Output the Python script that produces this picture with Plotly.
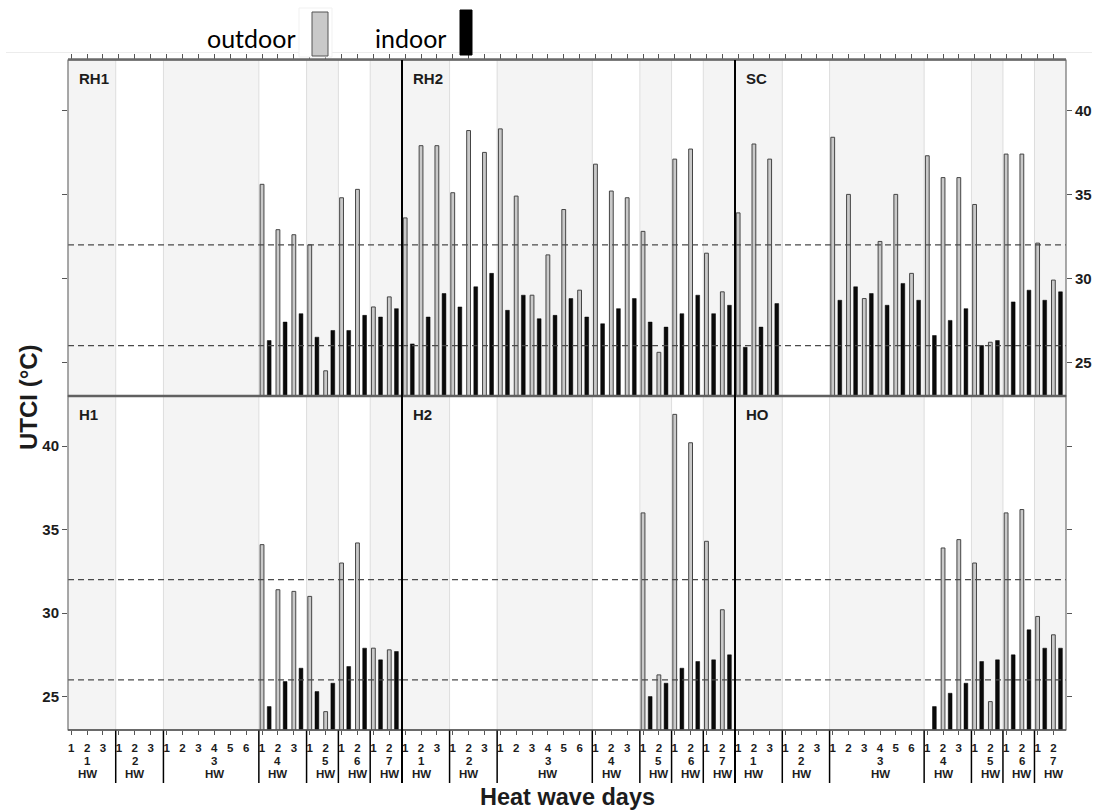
import plotly.graph_objects as go

# ---- data -------------------------------------------------------------
hw_lengths = [3, 3, 6, 3, 2, 2, 2]
hw_labels = ["1", "2", "3", "4", "5", "6", "7"]
day_labels = ["1", "2", "3", "1", "2", "3", "1", "2", "3", "4", "5", "6",
              "1", "2", "3", "1", "2", "1", "2", "1", "2"]
panel_names = ["RH1", "RH2", "SC", "H1", "H2", "HO"]
y_ticks = [25, 30, 35, 40]
thresholds = [26, 32]

N = None
rh1_outdoor = [N, N, N, N, N, N, N, N, N, N, N, N,
               35.6, 32.9, 32.6, 32.0, 24.5, 34.8, 35.3, 28.3, 28.9]
rh1_indoor = [N, N, N, N, N, N, N, N, N, N, N, N,
              26.3, 27.4, 27.9, 26.5, 26.9, 26.9, 27.8, 27.7, 28.2]

rh2_outdoor = [33.6, 37.9, 37.9, 35.1, 38.8, 37.5, 38.9, 34.9, 29.0, 31.4, 34.1, 29.3,
               36.8, 35.2, 34.8, 32.8, 25.6, 37.1, 37.7, 31.5, 29.2]
rh2_indoor = [26.1, 27.7, 29.1, 28.3, 29.5, 30.3, 28.1, 29.0, 27.6, 27.8, 28.8, 27.7,
              27.3, 28.2, 28.8, 27.4, 27.1, 27.9, 29.0, 27.9, 28.4]

sc_outdoor = [33.9, 38.0, 37.1, N, N, N, 38.4, 35.0, 28.8, 32.2, 35.0, 30.3,
              37.3, 36.0, 36.0, 34.4, 26.2, 37.4, 37.4, 32.1, 29.9]
sc_indoor = [25.9, 27.1, 28.5, N, N, N, 28.7, 29.5, 29.1, 28.4, 29.7, 28.7,
             26.6, 27.5, 28.2, 26.0, 26.3, 28.6, 29.3, 28.7, 29.2]

h1_outdoor = [N, N, N, N, N, N, N, N, N, N, N, N,
              34.1, 31.4, 31.3, 31.0, 24.1, 33.0, 34.2, 27.9, 27.8]
h1_indoor = [N, N, N, N, N, N, N, N, N, N, N, N,
             24.4, 25.9, 26.7, 25.3, 25.8, 26.8, 27.9, 27.2, 27.7]

h2_outdoor = [N, N, N, N, N, N, N, N, N, N, N, N, N, N, N,
              36.0, 26.3, 41.9, 40.2, 34.3, 30.2]
h2_indoor = [N, N, N, N, N, N, N, N, N, N, N, N, N, N, N,
             25.0, 25.8, 26.7, 27.1, 27.2, 27.5]

ho_outdoor = [N, N, N, N, N, N, N, N, N, N, N, N,
              N, 33.9, 34.4, 33.0, 24.7, 36.0, 36.2, 29.8, 28.7]
ho_indoor = [N, N, N, N, N, N, N, N, N, N, N, N,
             24.4, 25.2, 25.8, 27.1, 27.2, 27.5, 29.0, 27.9, 27.9]

outdoor_series = [rh1_outdoor, rh2_outdoor, sc_outdoor, h1_outdoor, h2_outdoor, ho_outdoor]
indoor_series = [rh1_indoor, rh2_indoor, sc_indoor, h1_indoor, h2_indoor, ho_indoor]

# ---- geometry / style ---------------------------------------------------
W, H = 1099, 812
col_px = [(68, 402), (402, 735), (735, 1066)]
row_px = [(60, 396), (396, 730)]
n_days = len(day_labels)
days = list(range(n_days))
tick_pos = [d - 0.3 for d in days]
y_range = [23, 43]

FONT = "Liberation Sans, Arial, sans-serif"
TXT = "#1c1c1c"
OUT_FILL = "#c9c9c9"
OUT_LINE = "#454545"
BAND = "#f4f4f4"
BAND_LINE = "#dddddd"
BORDER = "#707070"


def px_x(v):
    return v / W


def px_y(v):
    return 1 - v / H


# heat-wave group boundaries (day index where each group starts)
starts = []
acc = 0
for n in hw_lengths:
    starts.append(acc)
    acc += n

fig = go.Figure()
shapes = []
annotations = []
layout = {}

for k in range(6):
    r, c = divmod(k, 3)
    sfx = "" if k == 0 else str(k + 1)
    xa, ya = "x" + sfx, "y" + sfx

    fig.add_trace(go.Bar(
        x=days, y=outdoor_series[k], xaxis=xa, yaxis=ya,
        width=0.24, offset=-0.42,
        marker=dict(color=OUT_FILL, line=dict(color=OUT_LINE, width=1)),
        name="outdoor", showlegend=False, hoverinfo="x+y",
    ))
    fig.add_trace(go.Bar(
        x=days, y=indoor_series[k], xaxis=xa, yaxis=ya,
        width=0.24, offset=0.03,
        marker=dict(color="#0a0a0a", line=dict(color="#000000", width=0.5)),
        name="indoor", showlegend=False, hoverinfo="x+y",
    ))

    x0p, x1p = col_px[c]
    y0p, y1p = row_px[r]
    xaxis = dict(
        domain=[px_x(x0p), px_x(x1p)], anchor=ya, range=[-0.5, n_days - 0.5],
        showgrid=False, zeroline=False, fixedrange=True,
        tickmode="array", tickvals=tick_pos, ticktext=day_labels,
        ticks="outside", ticklen=5 if r == 0 else 4, tickcolor="#555555", tickwidth=1,
        tickfont=dict(family=FONT, size=11.5, color=TXT, weight="bold"),
        showline=False,
    )
    if r == 0:
        xaxis.update(side="top", showticklabels=False)
    else:
        xaxis.update(side="bottom", showticklabels=True, ticklabelstandoff=3)

    yaxis = dict(
        domain=[px_y(y1p), px_y(y0p)], anchor=xa, range=y_range,
        showgrid=False, zeroline=False, fixedrange=True,
        tickmode="array", tickvals=y_ticks, ticktext=[str(t) for t in y_ticks],
        tickfont=dict(family=FONT, size=15, color=TXT, weight="bold"),
        tickcolor="#555555", ticklen=5, showline=False,
    )
    if c == 0:
        yaxis.update(side="left", ticks="outside", showticklabels=(r == 1))
    elif c == 2:
        yaxis.update(side="right", ticks="outside", showticklabels=(r == 0))
    else:
        yaxis.update(ticks="", showticklabels=False)

    layout["xaxis" + sfx] = xaxis
    layout["yaxis" + sfx] = yaxis

    # alternating background bands per heat wave
    for g, (s, n) in enumerate(zip(starts, hw_lengths)):
        if g % 2 == 0:
            shapes.append(dict(type="rect", xref=xa, yref=ya + " domain",
                               x0=s - 0.5, x1=s + n - 0.5, y0=0, y1=1,
                               fillcolor=BAND, line=dict(width=0), layer="below"))
        if g > 0:
            shapes.append(dict(type="line", xref=xa, yref=ya + " domain",
                               x0=s - 0.5, x1=s - 0.5, y0=0, y1=1,
                               line=dict(color=BAND_LINE, width=1), layer="below"))

    # threshold lines
    for t in thresholds:
        shapes.append(dict(type="line", xref=xa + " domain", yref=ya,
                           x0=0, x1=1, y0=t, y1=t,
                           line=dict(color="#4a4a4a", width=1.3, dash="6px,4px"),
                           layer="above"))

    # panel frame
    shapes.append(dict(type="rect", xref=xa + " domain", yref=ya + " domain",
                       x0=0, x1=1, y0=0, y1=1,
                       line=dict(color=BORDER, width=1.2), layer="above"))

    # panel name
    annotations.append(dict(text=panel_names[k], xref=xa + " domain", yref=ya + " domain",
                            x=0.028, y=0.946, xanchor="left", yanchor="middle",
                            showarrow=False,
                            font=dict(family=FONT, size=15, color=TXT, weight="bold")))

    if r == 1:
        # heat-wave group labels and separators under the axis
        for g, (s, n) in enumerate(zip(starts, hw_labels)):
            pos = tick_pos[s + hw_lengths[g] // 2]
            annotations.append(dict(text=hw_labels[g], xref=xa, yref="paper",
                                    x=pos, y=px_y(761), xanchor="center", yanchor="middle",
                                    showarrow=False,
                                    font=dict(family=FONT, size=11.5, color=TXT, weight="bold")))
            annotations.append(dict(text="HW", xref=xa, yref="paper",
                                    x=pos, y=px_y(774), xanchor="center", yanchor="middle",
                                    showarrow=False,
                                    font=dict(family=FONT, size=11.5, color=TXT, weight="bold")))
            if g > 0:
                shapes.append(dict(type="line", xref=xa + " domain", yref="paper",
                                   x0=s / n_days, x1=s / n_days,
                                   y0=px_y(730), y1=px_y(783),
                                   line=dict(color="#000000", width=1.5)))

# thick row separator and top / bottom frame lines
shapes.append(dict(type="line", xref="paper", yref="paper",
                   x0=px_x(68), x1=px_x(1066), y0=px_y(396), y1=px_y(396),
                   line=dict(color="#606060", width=2.5)))
shapes.append(dict(type="line", xref="paper", yref="paper",
                   x0=px_x(68), x1=px_x(1066), y0=px_y(59.5), y1=px_y(59.5),
                   line=dict(color="#6a6a6a", width=2.5)))
shapes.append(dict(type="line", xref="paper", yref="paper",
                   x0=px_x(68), x1=px_x(1066), y0=px_y(730), y1=px_y(730),
                   line=dict(color="#505050", width=1.5)))

# black column separators running through the strip labels
for xs in (402, 735):
    shapes.append(dict(type="line", xref="paper", yref="paper",
                       x0=px_x(xs), x1=px_x(xs), y0=px_y(60), y1=px_y(783),
                       line=dict(color="#000000", width=2)))

# legend keys
shapes.append(dict(type="line", xref="paper", yref="paper",
                   x0=px_x(6), x1=px_x(1092), y0=px_y(52.5), y1=px_y(52.5),
                   line=dict(color="#ececec", width=1)))
shapes.append(dict(type="rect", xref="paper", yref="paper",
                   x0=px_x(299), x1=px_x(332), y0=px_y(57), y1=px_y(8),
                   fillcolor="#ffffff", line=dict(color="#f1f1f1", width=1)))
shapes.append(dict(type="rect", xref="paper", yref="paper",
                   x0=px_x(312), x1=px_x(328), y0=px_y(56), y1=px_y(12),
                   fillcolor=OUT_FILL, line=dict(color="#555555", width=1)))
shapes.append(dict(type="rect", xref="paper", yref="paper",
                   x0=px_x(460), x1=px_x(472), y0=px_y(55), y1=px_y(10),
                   fillcolor="#000000", line=dict(color="#000000", width=1)))
annotations.append(dict(text="outdoor", xref="paper", yref="paper",
                        x=px_x(298), y=px_y(38), xanchor="right", yanchor="middle",
                        showarrow=False, font=dict(family="Lato, Open Sans", size=25, color="#000000")))
annotations.append(dict(text="indoor", xref="paper", yref="paper",
                        x=px_x(448), y=px_y(38), xanchor="right", yanchor="middle",
                        showarrow=False, font=dict(family="Lato, Open Sans", size=25, color="#000000")))

# axis titles
annotations.append(dict(text="UTCI (°C)", xref="paper", yref="paper",
                        x=px_x(28), y=px_y(397), xanchor="center", yanchor="middle",
                        textangle=-90, showarrow=False,
                        font=dict(family=FONT, size=24, color=TXT, weight="bold")))
annotations.append(dict(text="Heat wave days", xref="paper", yref="paper",
                        x=px_x(567), y=px_y(797), xanchor="center", yanchor="middle",
                        showarrow=False,
                        font=dict(family=FONT, size=23.5, color=TXT, weight="bold")))

fig.update_layout(
    width=W, height=H, margin=dict(l=0, r=0, t=0, b=0),
    paper_bgcolor="#ffffff", plot_bgcolor="#ffffff",
    barmode="overlay", showlegend=False,
    shapes=shapes, annotations=annotations,
    **layout,
)

fig.write_html("out.html")
